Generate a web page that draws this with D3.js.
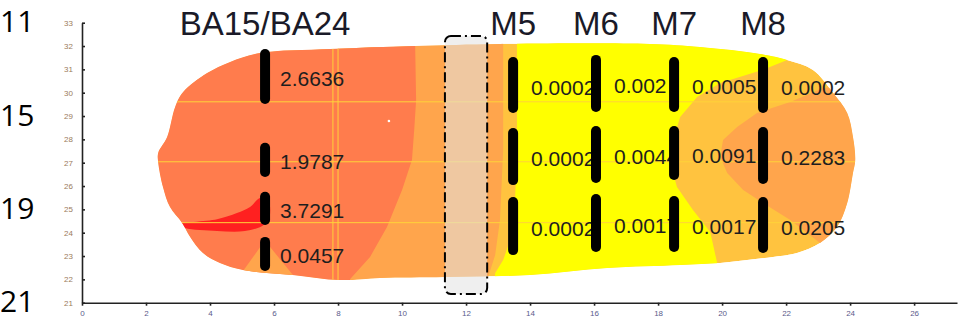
<!DOCTYPE html>
<html>
<head>
<meta charset="utf-8">
<script src="https://cdn.jsdelivr.net/npm/d3@7"></script>
<style>
  body { margin: 0; background: #fff; }
  svg { display: block; }
  text { font-family: "Liberation Sans", Arial, sans-serif; }
</style>
</head>
<body>
<div id="chart"></div>
<script>
// electrode columns (x in map units)
const columns = ["BA15/BA24", "M5", "M6", "M7", "M8"];
const columnX = [5.72, 13.47, 16.06, 18.5, 21.28];

// contact segments [top, bottom] per column, in map units
const baSegments = [[31.87, 29.52], [27.85, 26.39], [25.75, 24.33], [23.82, 22.36]];
const m5Segments = [[31.53, 29.13], [28.49, 26.04], [25.53, 23.04]];
const m6Segments = [[31.62, 29.17], [28.57, 26.13], [25.66, 23.17]];
const m7Segments = [[31.53, 29.17], [28.57, 26.26], [25.57, 23.17]];
const m8Segments = [[31.53, 29.13], [28.53, 26.09], [25.53, 23.13]];

const baValues = ["2.6636", "1.9787", "3.7291", "0.0457"];
const m5Values = ["0.0002", "0.0002", "0.0002"];
const m6Values = ["0.002", "0.0044", "0.0017"];
const m7Values = ["0.0005", "0.0091", "0.0017"];
const m8Values = ["0.0002", "0.2283", "0.0205"];

// row labels on the left
const rowLabels = ["11", "15", "19", "21"];
const rowAt = [33, 29, 25, 21];

// ticks
const yTicks = d3.range(21, 34);
const xTicks = d3.range(0, 27, 2);

// grid lines
const gridY = [29.61, 27.04, 24.43];
const gridX = [7.84, 8.0];

// highlighted band (dashed box)
const bandX = [11.34, 12.66];
const bandY = [21.37, 32.43];

// contour areas, map units
const outline = [[5.56,31.70],[7.75,31.87],[10.41,32.00],[13.06,32.09],[17.75,32.09],[19.31,31.96],
  [21.19,31.66],[22.03,31.40],[22.84,30.97],[23.47,29.99],[23.91,29.13],[24.09,28.10],[24.16,27.12],
  [24.09,26.56],[23.91,25.27],[23.59,24.24],[23.06,23.56],[22.34,23.13],[21.59,22.96],[20.78,22.83],
  [19.94,22.70],[18.69,22.62],[16.41,22.49],[14.0,22.19],[11.34,22.10],[9.31,22.06],[8.06,21.97],
  [6.59,22.19],[5.03,22.40],[4.31,22.70],[3.78,23.13],[3.38,23.82],[3.13,24.42],[2.75,25.10],
  [2.53,25.96],[2.38,27.03],[2.38,27.42],[2.66,28.10],[2.91,29.39],[3.16,30.03],[3.91,30.84],[4.63,31.32]];

const orangeArea = [[8,33.5],[13.16,33.5],[13.16,27.54],[13.06,24.54],[12.91,23.04],[12.69,22.1],[12.6,20.5],[8,20.5]];
const coralArea = [[0,33.5],[10.41,33.5],[10.41,32.0],[10.44,29.69],[10.38,28.40],[10.31,27.12],[10.0,25.83],
  [9.53,24.24],[9.0,22.96],[8.38,22.02],[8.1,20.5],[0,20.5]];
const notchArea = [[4.7,20.5],[5.0,22.3],[5.63,23.5],[5.81,23.5],[6.7,22.0],[6.9,20.5]];
const redArea = [[3.0,24.35],[4.22,24.58],[4.84,24.84],[5.25,25.1],[5.56,25.49],[5.81,25.45],[5.84,24.55],
  [5.63,24.29],[5.09,24.07],[4.22,24.07],[3.22,24.2]];
const yellowArea = [[13.59,33.5],[22.6,33.5],[22.13,31.45],[21.28,30.98],[19.94,30.42],[19.22,29.82],
  [18.69,28.96],[18.47,27.97],[18.38,26.99],[18.59,25.96],[19.09,24.97],[19.63,24.03],[19.84,22.74],
  [19.94,20.5],[12.8,20.5],[12.91,22.27],[13.16,22.83],[13.38,23.69],[13.53,25.4],[13.59,27.5]];
const innerArea = [[22.13,29.6],[23.16,30.2],[24.2,30.3],[26,29],[26,23],[23.06,23.56],[22.66,23.99],
  [22.13,24.54],[21.28,25.27],[20.66,25.83],[20.16,26.56],[19.94,27.24],[20.03,27.97],[20.47,28.53],[21.09,29.13]];
const spot = [[9.59, 28.79]];

const width = 960, height = 324;

const svg = d3.select("#chart").append("svg")
  .attr("width", width)
  .attr("height", height);

const x = d3.scaleLinear().domain([0, 27.34]).range([82, 957]);
const y = d3.scaleLinear().domain([21, 33]).range([302.7, 22.7]);

const smooth = d3.line().x(d => x(d[0])).y(d => y(d[1])).curve(d3.curveCatmullRomClosed.alpha(0.5));
const poly = d3.line().x(d => x(d[0])).y(d => y(d[1])).curve(d3.curveLinearClosed);

svg.append("clipPath").attr("id", "blob")
  .append("path").attr("d", smooth(outline));

const map = svg.append("g").attr("clip-path", "url(#blob)");
map.append("path").attr("d", smooth(outline)).attr("fill", "#ffc33f");
map.append("path").attr("d", poly(orangeArea)).attr("fill", "#ffa54c");
map.append("path").attr("d", poly(coralArea)).attr("fill", "#ff7c4d");
map.append("path").attr("d", poly(notchArea)).attr("fill", "#ffa54c");
map.append("path").attr("d", smooth(redArea)).attr("fill", "#ff2020");
map.append("path").attr("d", poly(yellowArea)).attr("fill", "#ffff00");
map.append("path").attr("d", poly(innerArea)).attr("fill", "#ffa54c");

// grid
map.selectAll(".gy").data(gridY).enter().append("line")
  .attr("x1", x(0)).attr("x2", x(27))
  .attr("y1", d => y(d)).attr("y2", d => y(d))
  .attr("stroke", "#ffd23a").attr("stroke-width", 1);
map.selectAll(".gx").data(gridX).enter().append("line")
  .attr("x1", d => x(d)).attr("x2", d => x(d))
  .attr("y1", y(21)).attr("y2", y(33))
  .attr("stroke", "#ffd23a").attr("stroke-width", 1);
map.selectAll(".spot").data(spot).enter().append("circle")
  .attr("cx", d => x(d[0])).attr("cy", d => y(d[1])).attr("r", 1.3).attr("fill", "#fff");

// dashed box
svg.append("rect")
  .attr("x", x(bandX[0])).attr("y", y(bandY[1]))
  .attr("width", x(bandX[1]) - x(bandX[0]))
  .attr("height", y(bandY[0]) - y(bandY[1]))
  .attr("rx", 6)
  .attr("fill", "#e3e3e3").attr("fill-opacity", 0.57)
  .attr("stroke", "#000").attr("stroke-width", 2)
  .attr("stroke-dasharray", "10,4,2,4");

// axes
const yAxis = svg.append("g")
  .attr("transform", "translate(" + x(0) + ",0)")
  .call(d3.axisLeft(y).tickValues(yTicks).tickSizeInner(-3).tickSizeOuter(0).tickPadding(9));
yAxis.selectAll("text").attr("font-size", 8).attr("fill", "#9b7b5b");

const xAxis = svg.append("g")
  .attr("transform", "translate(0," + y(21) + ")")
  .call(d3.axisBottom(x).tickValues(xTicks).tickSize(3).tickSizeOuter(0).tickPadding(5));
xAxis.selectAll("text").attr("font-size", 8).attr("fill", "#5b5b8b");

svg.selectAll(".domain, .tick line").attr("stroke", "#222").attr("stroke-width", 1.6);

// value labels, then contacts on top
const allSegments = [baSegments, m5Segments, m6Segments, m7Segments, m8Segments];
const allValues = [baValues, m5Values, m6Values, m7Values, m8Values];

allSegments.forEach((segs, i) => {
  svg.append("g").selectAll("text")
    .data(segs)
    .enter().append("text")
    .attr("x", x(columnX[i]) + (i === 0 ? 15 : 18))
    .attr("y", d => y((d[0] + d[1]) / 2) + 2)
    .attr("dominant-baseline", "central")
    .attr("font-size", 21)
    .attr("fill", "#1e1e1e")
    .text((d, j) => allValues[i][j]);
});

allSegments.forEach((segs, i) => {
  svg.append("g").selectAll("rect")
    .data(segs)
    .enter().append("rect")
    .attr("x", x(columnX[i]) - 5)
    .attr("y", d => y(d[0]))
    .attr("width", 10)
    .attr("height", d => y(d[1]) - y(d[0]))
    .attr("rx", 5).attr("ry", 5)
    .attr("fill", "#000");
});

// column titles
svg.append("g").selectAll("text")
  .data(columns)
  .enter().append("text")
  .attr("x", (d, i) => x(columnX[i]))
  .attr("y", 35)
  .attr("text-anchor", "middle")
  .attr("font-size", 33)
  .attr("fill", "#1a1a28")
  .text(d => d);

// row labels
svg.append("g").selectAll("text")
  .data(rowLabels)
  .enter().append("text")
  .attr("x", 0)
  .attr("y", (d, i) => y(rowAt[i]) - 2)
  .attr("dominant-baseline", "central")
  .style("font-family", "'Open Sans', sans-serif")
  .attr("font-size", 30)
  .attr("fill", "#000")
  .text(d => d);
</script>
</body>
</html>
